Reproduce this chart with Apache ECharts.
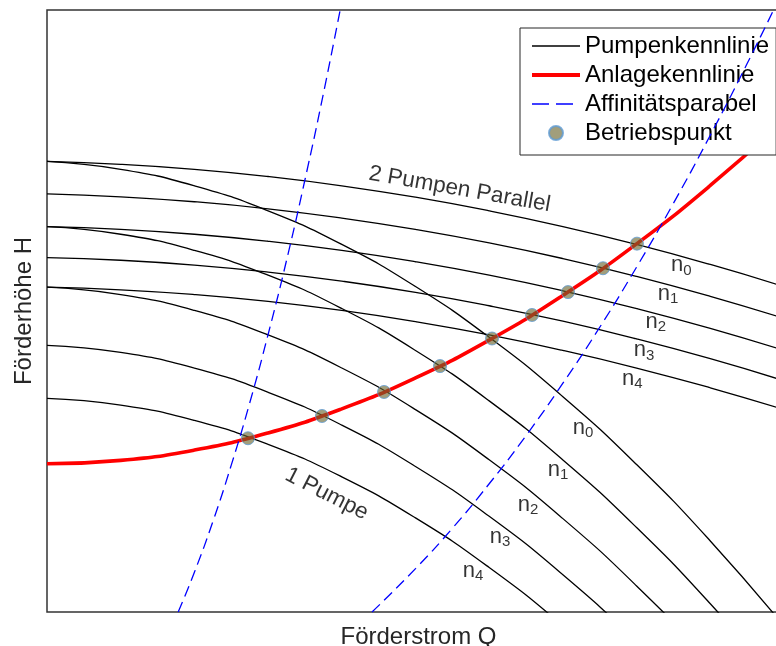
<!DOCTYPE html>
<html>
<head>
<meta charset="utf-8">
<script src="https://cdn.jsdelivr.net/npm/echarts@6/dist/echarts.min.js"></script>
<style>
  html, body { margin: 0; padding: 0; background: #ffffff; }
  #chart { width: 776px; height: 646px; }
</style>
</head>
<body>
<div id="chart"></div>
<script>
// Förderstrom Q (shared grid for all characteristic curves)
const flowGrid = [0, 1, 2, 3, 4, 5, 6, 7, 8, 9, 10];

// Pumpenkennlinien, eine Pumpe, Drehzahlen n0 ... n4
const headSingleN0 = [7.484, 7.353, 7.080, 6.664, 6.106, 5.406, 4.563, 3.577, 2.450, 1.180, -0.233];
const headSingleN1 = [6.401, 6.275, 6.006, 5.595, 5.041, 4.345, 3.507, 2.526, 1.403, 0.137, -1.271];
const headSingleN2 = [5.395, 5.273, 5.009, 4.602, 4.053, 3.362, 2.528, 1.551, 0.433, -0.828, -2.232];
const headSingleN3 = [4.428, 4.311, 4.051, 3.650, 3.105, 2.418, 1.589, 0.618, -0.496, -1.752, -3.151];
const headSingleN4 = [3.549, 3.437, 3.182, 2.785, 2.245, 1.563, 0.739, -0.228, -1.337, -2.588, -3.982];

// Pumpenkennlinien, zwei Pumpen parallel, Drehzahlen n0 ... n4
const headParallelN0 = [7.484, 7.436, 7.353, 7.234, 7.080, 6.890, 6.664, 6.403, 6.106, 5.773, 5.406];
const headParallelN1 = [6.944, 6.897, 6.815, 6.698, 6.544, 6.355, 6.131, 5.871, 5.575, 5.243, 4.877];
const headParallelN2 = [6.401, 6.356, 6.275, 6.158, 6.006, 5.818, 5.595, 5.336, 5.041, 4.711, 4.345];
const headParallelN3 = [5.887, 5.843, 5.763, 5.647, 5.496, 5.310, 5.087, 4.830, 4.536, 4.207, 3.842];
const headParallelN4 = [5.395, 5.352, 5.273, 5.159, 5.009, 4.823, 4.602, 4.345, 4.053, 3.725, 3.362];

// Anlagekennlinie
const headSystem = [2.462, 2.519, 2.690, 2.975, 3.375, 3.889, 4.516, 5.259, 6.115, 7.085, 8.170];

// Affinitätsparabeln
const flowAffinityLow = [1.78, 2.0, 2.25, 2.5, 2.75, 3.0, 3.25, 3.5, 3.75, 4.0];
const headAffinityLow = [0, 0.66, 1.50, 2.44, 3.47, 4.61, 5.84, 7.18, 8.61, 10.14];
const flowAffinityHigh = [4.41, 5.0, 5.5, 6.0, 6.5, 7.0, 7.5, 8.0, 8.5, 9.0, 9.5, 10.0];
const headAffinityHigh = [0, 0.72, 1.39, 2.13, 2.93, 3.80, 4.73, 5.73, 6.79, 7.92, 9.11, 10.36];

// Betriebspunkte
const opFlow = [2.727, 3.731, 4.573, 5.333, 6.038, 6.581, 7.069, 7.544, 8.005];
const opHead = [2.886, 3.256, 3.655, 4.085, 4.543, 4.934, 5.314, 5.710, 6.119];

// Drehzahl-Beschriftungen
const speedDigits = ['0', '1', '2', '3', '4'];
const speedLabelFlowParallel = [8.607, 8.426, 8.259, 8.100, 7.942];
const speedLabelHeadParallel = [5.761, 5.291, 4.821, 4.349, 3.879];
const speedLabelFlowSingle = [7.273, 6.934, 6.526, 6.147, 5.780];
const speedLabelHeadSingle = [3.065, 2.367, 1.786, 1.254, 0.689];

// Kurvenbeschriftungen
const curveLabelTexts = ['2 Pumpen Parallel', '1 Pumpe'];
const curveLabelFlow = [5.600, 3.795];
const curveLabelHead = [7.022, 1.960];
const curveLabelAngle = [-10, -27];

const FONT = "'Liberation Sans', Arial, Helvetica, sans-serif";
const zip = (xs, ys) => xs.map((x, i) => [x, ys[i]]);

const pumpCurves = [
  headSingleN0, headSingleN1, headSingleN2, headSingleN3, headSingleN4,
  headParallelN0, headParallelN1, headParallelN2, headParallelN3, headParallelN4
];

const series = [];

pumpCurves.forEach(h => {
  series.push({
    type: 'line',
    name: 'Pumpenkennlinie',
    data: zip(flowGrid, h),
    symbol: 'none',
    smooth: 0.5,
    silent: true,
    lineStyle: { color: '#000000', width: 1.3 },
    itemStyle: { color: '#000000' },
    z: 2
  });
});

series.push({
  type: 'line',
  name: 'Anlagekennlinie',
  data: zip(flowGrid, headSystem),
  symbol: 'none',
  smooth: 0.5,
  silent: true,
  lineStyle: { color: '#ff0000', width: 3.6 },
  itemStyle: { color: '#ff0000' },
  z: 3
});

[[flowAffinityLow, headAffinityLow], [flowAffinityHigh, headAffinityHigh]].forEach(([q, h]) => {
  series.push({
    type: 'line',
    name: 'Affinitätsparabel',
    data: zip(q, h),
    symbol: 'none',
    smooth: 0.5,
    silent: true,
    lineStyle: { color: '#0000ff', width: 1.3, type: [11, 6] },
    itemStyle: { color: '#0000ff' },
    z: 4
  });
});

series.push({
  type: 'scatter',
  name: 'Betriebspunkt',
  data: zip(opFlow, opHead),
  symbol: 'circle',
  symbolSize: 13,
  silent: true,
  itemStyle: { color: 'rgba(105,100,45,0.78)', borderColor: '#5f9bd3', borderWidth: 1 },
  z: 5
});

// n-Beschriftungen mit Index
const speedLabelData = [];
speedDigits.forEach((d, i) => {
  speedLabelData.push({ value: [speedLabelFlowParallel[i], speedLabelHeadParallel[i]], digit: d });
  speedLabelData.push({ value: [speedLabelFlowSingle[i], speedLabelHeadSingle[i]], digit: d });
});

series.push({
  type: 'scatter',
  name: 'speedLabels',
  data: speedLabelData,
  symbolSize: 1,
  silent: true,
  itemStyle: { color: 'transparent' },
  label: {
    show: true,
    position: 'inside',
    formatter: p => '{n|n}{s|' + p.data.digit + '}',
    rich: {
      n: { fontSize: 22, lineHeight: 26, color: '#000', fontFamily: FONT },
      s: { fontSize: 15, lineHeight: 16, verticalAlign: 'bottom', color: '#000', fontFamily: FONT }
    }
  },
  z: 6
});

series.push({
  type: 'scatter',
  name: 'curveLabels',
  data: curveLabelTexts.map((t, i) => ({
    value: [curveLabelFlow[i], curveLabelHead[i]],
    label: { formatter: t, rotate: curveLabelAngle[i] }
  })),
  symbolSize: 1,
  silent: true,
  itemStyle: { color: 'transparent' },
  label: {
    show: true,
    position: 'inside',
    fontSize: 22.5,
    color: '#000',
    fontFamily: FONT
  },
  z: 6
});

// line entries show only the stroke in the legend
const lineLegendItem = (name, lineStyle) => ({ name: name, itemStyle: { opacity: 0 }, lineStyle: lineStyle });

const chart = echarts.init(document.getElementById('chart'), null, { renderer: 'canvas' });
chart.setOption({
  animation: false,
  backgroundColor: '#ffffff',
  textStyle: { fontFamily: FONT },
  grid: {
    left: 47, right: -8, top: 10, bottom: 34,
    outerBoundsMode: 'none',
    containLabel: false,
    show: true, borderColor: '#333333', borderWidth: 1.5, backgroundColor: '#ffffff'
  },
  xAxis: {
    type: 'value', min: 0, max: 10,
    axisLine: { show: false }, axisTick: { show: false }, axisLabel: { show: false },
    splitLine: { show: false },
    name: 'Förderstrom Q', nameLocation: 'middle', nameGap: 13,
    nameTextStyle: { fontSize: 24, color: '#262626', fontFamily: FONT, padding: [0, 0, 0, 6] }
  },
  yAxis: {
    type: 'value', min: 0, max: 10,
    axisLine: { show: false }, axisTick: { show: false }, axisLabel: { show: false },
    splitLine: { show: false },
    name: 'Förderhöhe H', nameLocation: 'middle', nameGap: 11, nameRotate: 90,
    nameTextStyle: { fontSize: 24, color: '#262626', fontFamily: FONT }
  },
  legend: {
    data: [
      lineLegendItem('Pumpenkennlinie', { width: 1.3 }),
      lineLegendItem('Anlagekennlinie', { width: 4 }),
      lineLegendItem('Affinitätsparabel', { width: 1.3, type: [17, 7] }),
      'Betriebspunkt'
    ],
    orient: 'vertical',
    left: 520, top: 28,
    itemWidth: 48, itemHeight: 14, itemGap: 5,
    padding: [6, 7, 10, 10],
    borderColor: '#262626', borderWidth: 1,
    backgroundColor: '#ffffff',
    selectedMode: false,
    textStyle: { fontSize: 24, color: '#000000', fontFamily: FONT }
  },
  series: series
});
</script>
</body>
</html>
